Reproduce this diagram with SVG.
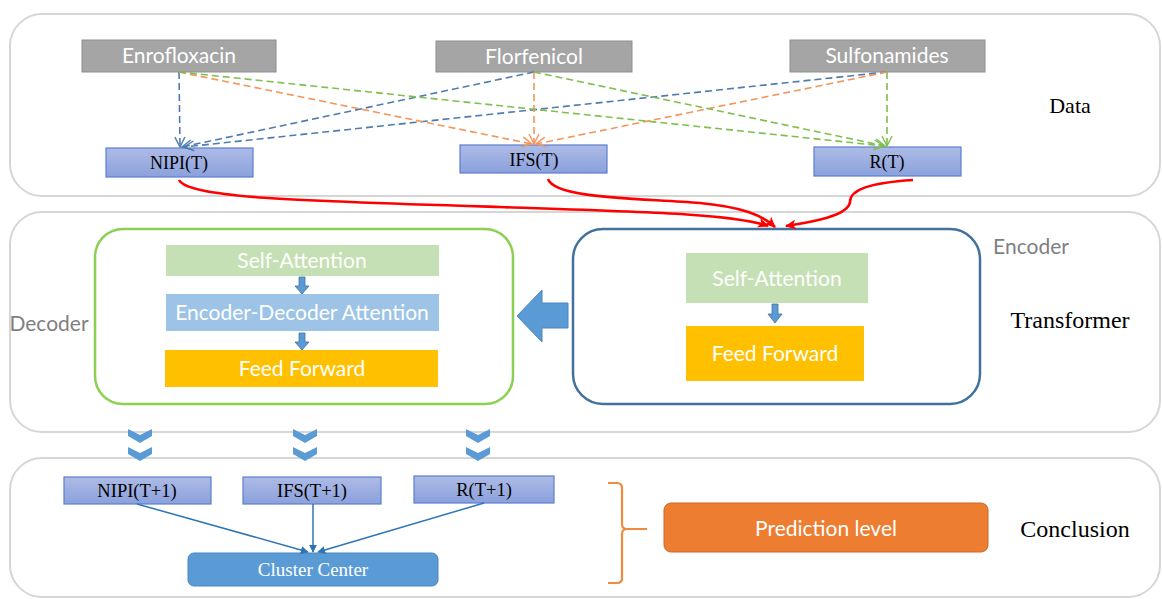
<svg xmlns="http://www.w3.org/2000/svg" width="1162" height="599" viewBox="0 0 1162 599">
<defs>
<style>
.panel{fill:#fff;stroke:#d6d6d6;stroke-width:2}
.gray{fill:#a5a5a5;stroke:#8f8f8f;stroke-width:1}
.inp{fill:url(#bg);stroke:#5b7fd0;stroke-width:1.2}
.cal{font-family:Lato,"Open Sans","Liberation Sans",sans-serif;font-size:21px}
.ser{font-family:"Liberation Serif","DejaVu Serif",serif;}
.wt{fill:#fff}
.dash{fill:none;stroke-width:1.6;stroke-dasharray:7 4}
.red{fill:none;stroke:#ff0000;stroke-width:2.6}
.cl{stroke:#2e75b6;stroke-width:1.5;fill:none}
.chev{fill:#5b9bd5}
</style>
<linearGradient id="bg" x1="0" y1="0" x2="0" y2="1">
<stop offset="0" stop-color="#adbbe6"/>
<stop offset="1" stop-color="#8ba1dc"/>
</linearGradient>
<marker id="mb" viewBox="0 0 12 12" refX="11" refY="6" markerWidth="12" markerHeight="12" markerUnits="userSpaceOnUse" orient="auto">
<path d="M1,1 L11,6 L1,11" fill="none" stroke="#4f7cb0" stroke-width="1.4"/>
</marker>
<marker id="mo" viewBox="0 0 12 12" refX="11" refY="6" markerWidth="12" markerHeight="12" markerUnits="userSpaceOnUse" orient="auto">
<path d="M1,1 L11,6 L1,11" fill="none" stroke="#f4955a" stroke-width="1.4"/>
</marker>
<marker id="mg" viewBox="0 0 12 12" refX="11" refY="6" markerWidth="12" markerHeight="12" markerUnits="userSpaceOnUse" orient="auto">
<path d="M1,1 L11,6 L1,11" fill="none" stroke="#7fbf4d" stroke-width="1.4"/>
</marker>
<marker id="mr" viewBox="0 0 12 12" refX="10" refY="6" markerWidth="12" markerHeight="12" markerUnits="userSpaceOnUse" orient="auto">
<path d="M0,1 L11,6 L0,11 L3,6 Z" fill="#ff0000"/>
</marker>
<marker id="mc" viewBox="0 0 10 10" refX="9" refY="5" markerWidth="8" markerHeight="8" markerUnits="userSpaceOnUse" orient="auto">
<path d="M0,0 L10,5 L0,10 Z" fill="#2e75b6"/>
</marker>
</defs>
<rect width="1162" height="599" fill="#fff"/>

<g id="panels">
<rect class="panel" x="10" y="14" width="1150" height="182" rx="32"/>
<rect class="panel" x="10" y="212" width="1150" height="220" rx="32"/>
<rect class="panel" x="10" y="458" width="1150" height="139" rx="32"/>
</g>

<g id="labels">
<text class="ser" x="1070" y="113" font-size="22" text-anchor="middle">Data</text>
<text class="ser" x="1070" y="328" font-size="24" text-anchor="middle">Transformer</text>
<text class="ser" x="1075" y="537" font-size="24" text-anchor="middle">Conclusion</text>
<text class="cal" x="49" y="331" fill="#7f7f7f" text-anchor="middle">Decoder</text>
<text class="cal" x="1031" y="254" fill="#7f7f7f" text-anchor="middle">Encoder</text>
</g>

<g id="enrofloxacin"><rect class="gray" x="82" y="40" width="194" height="32"/><text class="cal wt" x="179" y="63" text-anchor="middle">Enrofloxacin</text></g>
<g id="florfenicol"><rect class="gray" x="436" y="41" width="196" height="31"/><text class="cal wt" x="534" y="64" text-anchor="middle">Florfenicol</text></g>
<g id="sulfonamides"><rect class="gray" x="790" y="40" width="195" height="32"/><text class="cal wt" x="887" y="63" text-anchor="middle">Sulfonamides</text></g>

<g id="nipi_t"><rect class="inp" x="106" y="148" width="147" height="29"/><text class="ser" x="179" y="169" font-size="18" text-anchor="middle">NIPI(T)</text></g>
<g id="ifs_t"><rect class="inp" x="460" y="145" width="147" height="28"/><text class="ser" x="534" y="166" font-size="18" text-anchor="middle">IFS(T)</text></g>
<g id="r_t"><rect class="inp" x="814" y="147" width="147" height="29"/><text class="ser" x="887" y="168" font-size="18" text-anchor="middle">R(T)</text></g>

<g id="decoder">
<rect x="95" y="229" width="418" height="175" rx="28" fill="#fff" stroke="#8cd053" stroke-width="2.5"/>
<rect x="166" y="245" width="273" height="31" fill="#c5e0b4"/>
<text class="cal wt" x="302" y="268" text-anchor="middle">Self-Attention</text>
<rect x="166" y="294" width="273" height="37" fill="#9dc3e6"/>
<text class="cal wt" x="302" y="320" text-anchor="middle">Encoder-Decoder Attention</text>
<rect x="165" y="350" width="273" height="37" fill="#ffc000"/>
<text class="cal wt" x="302" y="376" text-anchor="middle">Feed Forward</text>
<path d="M299,277 h6 v9 h4 l-7,8 l-7,-8 h4 Z" fill="#5b9bd5" stroke="#41719c" stroke-width="0.8"/>
<path d="M299,333 h6 v9 h4 l-7,8 l-7,-8 h4 Z" fill="#5b9bd5" stroke="#41719c" stroke-width="0.8"/>
</g>

<g id="encoder">
<rect x="573" y="229" width="407" height="175" rx="30" fill="#fff" stroke="#41719c" stroke-width="2.5"/>
<rect x="686" y="253" width="182" height="50" fill="#c5e0b4"/>
<text class="cal wt" x="777" y="286" text-anchor="middle">Self-Attention</text>
<rect x="686" y="326" width="178" height="55" fill="#ffc000"/>
<text class="cal wt" x="775" y="361" text-anchor="middle">Feed Forward</text>
<path d="M772,304 h6 v10 h4 l-7,9 l-7,-9 h4 Z" fill="#5b9bd5" stroke="#41719c" stroke-width="0.8"/>
</g>

<g id="big_arrow">
<path d="M517,316 L542,290 L542,303 L568,303 L568,328 L542,328 L542,342 Z" fill="#5b9bd5" stroke="#4a86c0" stroke-width="1"/>
</g>

<g id="nipi_t1"><rect class="inp" x="64" y="477" width="147" height="27"/><text class="ser" x="137" y="497" font-size="18.5" text-anchor="middle">NIPI(T+1)</text></g>
<g id="ifs_t1"><rect class="inp" x="243" y="477" width="138" height="27"/><text class="ser" x="312" y="497" font-size="18.5" text-anchor="middle">IFS(T+1)</text></g>
<g id="r_t1"><rect class="inp" x="414" y="476" width="140" height="27"/><text class="ser" x="484" y="496" font-size="18.5" text-anchor="middle">R(T+1)</text></g>
<g id="cluster_center"><rect x="188" y="553" width="250" height="33" rx="6" fill="#5b9bd5" stroke="#4a86c0" stroke-width="1"/><text class="ser wt" x="313" y="576" font-size="19" text-anchor="middle">Cluster Center</text></g>
<g id="prediction_level"><rect x="664" y="503" width="324" height="49" rx="7" fill="#ed7d31" stroke="#c9682a" stroke-width="1"/><text class="cal wt" x="826" y="536" text-anchor="middle">Prediction level</text></g>
<g id="bracket"><path d="M608,483 H617 Q622,483 622,488 V524 Q622,529 627,529 H647 M627,529 Q622,529 622,534 V578 Q622,583 617,583 H608" fill="none" stroke="#f08a3c" stroke-width="2.2"/></g>

<g id="chevrons">
<path class="chev" d="M128,429 L140,435 L152,429 L152,436 L140,443 L128,436 Z"/>
<path class="chev" d="M128,447 L140,453 L152,447 L152,454 L140,461 L128,454 Z"/>
<path class="chev" d="M293,429 L305,435 L317,429 L317,436 L305,443 L293,436 Z"/>
<path class="chev" d="M293,447 L305,453 L317,447 L317,454 L305,461 L293,454 Z"/>
<path class="chev" d="M466,429 L478,435 L490,429 L490,436 L478,443 L466,436 Z"/>
<path class="chev" d="M466,447 L478,453 L490,447 L490,454 L478,461 L466,454 Z"/>
</g>

<g id="connectors">
<line class="dash" x1="179" y1="72" x2="180" y2="147" stroke="#4f7cb0" marker-end="url(#mb)"/>
<line class="dash" x1="534" y1="72" x2="182" y2="147" stroke="#4f7cb0" marker-end="url(#mb)"/>
<line class="dash" x1="887" y1="72" x2="184" y2="147" stroke="#4f7cb0" marker-end="url(#mb)"/>
<line class="dash" x1="179" y1="72" x2="532" y2="144" stroke="#f4955a" marker-end="url(#mo)"/>
<line class="dash" x1="534" y1="72" x2="534" y2="144" stroke="#f4955a" marker-end="url(#mo)"/>
<line class="dash" x1="887" y1="72" x2="536" y2="144" stroke="#f4955a" marker-end="url(#mo)"/>
<line class="dash" x1="179" y1="72" x2="884" y2="146" stroke="#7fbf4d" marker-end="url(#mg)"/>
<line class="dash" x1="534" y1="72" x2="885" y2="146" stroke="#7fbf4d" marker-end="url(#mg)"/>
<line class="dash" x1="887" y1="72" x2="887" y2="146" stroke="#7fbf4d" marker-end="url(#mg)"/>
<path class="red" d="M179,180 C188,198 300,201 500,207 C650,212 735,214 768,226" marker-end="url(#mr)"/>
<path class="red" d="M548,179 C555,199 640,198 700,203 C742,207 762,215 775,227" marker-end="url(#mr)"/>
<path class="red" d="M913,180 C868,183 850,190 850,202 C848,216 812,222 786,226" marker-end="url(#mr)"/>
<line class="cl" x1="137" y1="504" x2="308" y2="552" marker-end="url(#mc)"/>
<line class="cl" x1="313" y1="504" x2="313" y2="552" marker-end="url(#mc)"/>
<line class="cl" x1="484" y1="503" x2="318" y2="552" marker-end="url(#mc)"/>
</g>
</svg>
